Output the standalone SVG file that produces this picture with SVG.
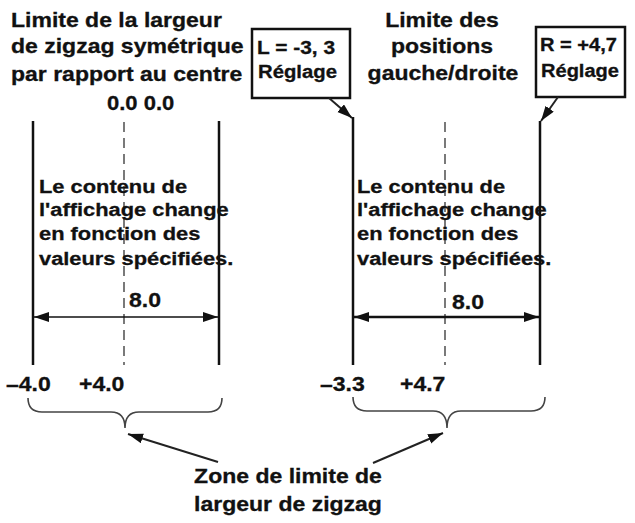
<svg xmlns="http://www.w3.org/2000/svg" width="635" height="523" viewBox="0 0 635 523">
<style>
text{font-family:"Liberation Sans",Arial,sans-serif;font-weight:bold;fill:#111;stroke:#111;stroke-width:0.3}
.h{font-size:20px}
.p{font-size:19px}
.b{font-size:18px}
.n{font-size:20px}
.solid{stroke:#111;stroke-width:2.5;fill:none}
.dash{stroke:#333;stroke-width:1.3;stroke-dasharray:10,6;fill:none}
.box{fill:#fff;stroke:#111;stroke-width:2.5}
.brace{stroke:#444;stroke-width:1.6;fill:none}
.conn{stroke:#222;stroke-width:2;fill:none}
</style>
<defs>
<marker id="ah" markerUnits="userSpaceOnUse" markerWidth="16" markerHeight="12" refX="15" refY="5" orient="auto-start-reverse">
<path d="M0,0 L15,5 L0,10 Z" fill="#111"/>
</marker>
</defs>
<rect width="635" height="523" fill="#fff"/>

<g id="left-header">
<text class="h" transform="translate(11,27) scale(1.15,1)">Limite de la largeur</text>
<text class="h" transform="translate(11,53) scale(1.15,1)">de zigzag symétrique</text>
<text class="h" transform="translate(11,81) scale(1.15,1)">par rapport au centre</text>
<text class="h" transform="translate(107,110) scale(1.1,1)">0.0 0.0</text>
</g>

<g id="right-header">
<text class="h" text-anchor="middle" transform="translate(442,27) scale(1.15,1)">Limite des</text>
<text class="h" text-anchor="middle" transform="translate(442,53) scale(1.15,1)">positions</text>
<text class="h" text-anchor="middle" transform="translate(443,80) scale(1.15,1)">gauche/droite</text>
</g>

<g id="box-L">
<rect class="box" x="252" y="29" width="98" height="69"/>
<text class="b" x="257" y="54" textLength="78" lengthAdjust="spacingAndGlyphs">L = -3, 3</text>
<text class="b" x="258" y="78" textLength="79" lengthAdjust="spacingAndGlyphs">Réglage</text>
</g>

<g id="box-R">
<rect class="box" x="536" y="27" width="89" height="70"/>
<text class="b" x="540" y="51" textLength="77" lengthAdjust="spacingAndGlyphs">R = +4,7</text>
<text class="b" x="541" y="77" textLength="78" lengthAdjust="spacingAndGlyphs">Réglage</text>
</g>

<g id="left-panel">
<line class="solid" x1="33" y1="121" x2="33" y2="365"/>
<line class="solid" x1="219" y1="121" x2="219" y2="365"/>
<line class="dash" x1="124" y1="122" x2="124" y2="365"/>
<text class="p" transform="translate(39,193) scale(1.15,1)">Le contenu de</text>
<text class="p" transform="translate(39,216) scale(1.15,1)">l'affichage change</text>
<text class="p" transform="translate(39,240) scale(1.15,1)">en fonction des</text>
<text class="p" transform="translate(39,265) scale(1.15,1)">valeurs spécifiées.</text>
<text class="n" transform="translate(129,307) scale(1.15,1)">8.0</text>
<text class="n" transform="translate(6,391) scale(1.15,1)">–4.0</text>
<text class="n" transform="translate(79,391) scale(1.15,1)">+4.0</text>
</g>

<g id="right-panel">
<line class="solid" x1="353" y1="117" x2="353" y2="365"/>
<line class="solid" x1="540" y1="121" x2="540" y2="365"/>
<line class="dash" x1="445" y1="122" x2="445" y2="365"/>
<text class="p" transform="translate(357,193) scale(1.15,1)">Le contenu de</text>
<text class="p" transform="translate(357,216) scale(1.15,1)">l'affichage change</text>
<text class="p" transform="translate(357,240) scale(1.15,1)">en fonction des</text>
<text class="p" transform="translate(357,265) scale(1.15,1)">valeurs spécifiées.</text>
<text class="n" transform="translate(452,309) scale(1.15,1)">8.0</text>
<text class="n" transform="translate(320,391) scale(1.15,1)">–3.3</text>
<text class="n" transform="translate(400,391) scale(1.15,1)">+4.7</text>
</g>

<g id="bottom-label">
<text class="h" text-anchor="middle" transform="translate(288,483) scale(1.15,1)">Zone de limite de</text>
<text class="h" text-anchor="middle" transform="translate(288,511) scale(1.15,1)">largeur de zigzag</text>
</g>

<g id="connectors">
<line x1="34" y1="317" x2="218" y2="317" stroke="#111" stroke-width="1.6" marker-start="url(#ah)" marker-end="url(#ah)"/>
<line x1="354" y1="317" x2="539" y2="317" stroke="#111" stroke-width="2.5" marker-start="url(#ah)" marker-end="url(#ah)"/>
<line class="conn" x1="329" y1="98" x2="352" y2="118" marker-end="url(#ah)"/>
<line class="conn" x1="558" y1="97" x2="541" y2="121" marker-end="url(#ah)"/>
<path class="brace" d="M28,398 Q28,412 42,412 L111,412 Q125,412 125,428 Q125,412 139,412 L208,412 Q222,412 222,398"/>
<path class="brace" d="M353,397 Q353,411 367,411 L433,411 Q447,411 447,428 Q447,411 461,411 L531,411 Q545,411 545,397"/>
<line class="conn" x1="218" y1="462" x2="128" y2="434" marker-end="url(#ah)"/>
<line class="conn" x1="373" y1="463" x2="443" y2="433" marker-end="url(#ah)"/>
</g>
</svg>
